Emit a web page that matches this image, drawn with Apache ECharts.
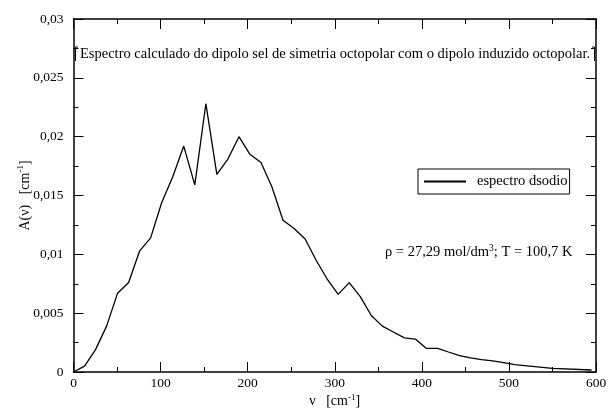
<!DOCTYPE html>
<html>
<head>
<meta charset="utf-8">
<script src="https://cdn.jsdelivr.net/npm/echarts@6/dist/echarts.min.js"></script>
<style>
  html, body { margin: 0; padding: 0; background: #fff; }
  #chart { width: 608px; height: 412px; }
</style>
</head>
<body>
<div id="chart"></div>
<script>
// wavenumber (cm^-1) and absorption A(v)
const wavenumbers = [0, 12.7, 25.3, 38, 50.6, 63.3, 76, 88.6, 101.3, 114, 126.6, 139.3, 152, 164.6,
  177.3, 190, 202.6, 215.3, 228, 240.6, 253.3, 266, 278.6, 291.3, 304, 316.6, 329.3, 342, 354.6,
  367.3, 380, 392.6, 405.3, 418, 430.6, 443.3, 456, 468.6, 481.3, 494, 506.6, 550, 595];
const absorbance = [0, 0.0005, 0.0019, 0.0039, 0.0067, 0.0076, 0.0103, 0.0114, 0.0144, 0.0166, 0.0192,
  0.0159, 0.0228, 0.0168, 0.0181, 0.0200, 0.0185, 0.0178, 0.0157, 0.0129, 0.0122, 0.0113, 0.0095,
  0.0079, 0.0066, 0.0076, 0.0064, 0.0048, 0.0039, 0.0034, 0.0029, 0.0028, 0.0020, 0.0020, 0.0017,
  0.0014, 0.0012, 0.00105, 0.00095, 0.0008, 0.00063, 0.0003, 0.00017];
const xTicks = [0, 100, 200, 300, 400, 500, 600];
const yTicks = ["0", "0,005", "0,01", "0,015", "0,02", "0,025", "0,03"];

const seriesName = "espectro dsodio";
const titleText = "Espectro calculado do dipolo sel de simetria octopolar com o dipolo induzido octopolar.";
const noteText = "27,29 mol/dm";

const FONT = "Liberation Serif";
const chart = echarts.init(document.getElementById("chart"), null, { renderer: "canvas" });

// ticks point into the frame on all four sides
function axisStyle(inside, len) {
  return {
    axisLine: { show: true, onZero: false, lineStyle: { color: "#000", width: 1.5 } },
    axisTick: { show: true, inside: inside, length: len, lineStyle: { color: "#000", width: 1 } },
    minorTick: { show: true, splitNumber: 2, length: len / 2, lineStyle: { color: "#000", width: 1 } },
    splitLine: { show: false },
  };
}

const supRich = {
  n: { fontFamily: FONT, fontSize: 14, color: "#000" },
  s: { fontFamily: FONT, fontSize: 9, color: "#000", verticalAlign: "top", padding: [0, 0, 8, 0] },
};
const noteRich = {
  n: { fontFamily: FONT, fontSize: 14.5, color: "#000" },
  s: { fontFamily: FONT, fontSize: 9.5, color: "#000", verticalAlign: "top", padding: [0, 0, 8, 0] },
};

chart.setOption({
  animation: false,
  backgroundColor: "#fff",
  grid: { left: 73.5, right: 12, top: 19, bottom: 40, containLabel: false, outerBoundsMode: "none" },
  xAxis: [
    Object.assign({ type: "value", min: 0, max: 600, interval: 100, position: "bottom" }, axisStyle(true, 10), {
      axisLabel: {
        fontFamily: FONT, fontSize: 13.5, color: "#000", margin: 4,
        formatter: (v) => (xTicks.includes(v) ? String(v) : ""),
      },
      name: "{n|ν   [cm}{s|-1}{n|]}",
      nameLocation: "middle",
      nameGap: 21,
      nameMoveOverlap: false,
      nameTextStyle: { rich: supRich },
    }),
    Object.assign({ type: "value", min: 0, max: 600, interval: 100, position: "top" }, axisStyle(true, 10), {
      axisLabel: { show: false },
    }),
  ],
  yAxis: [
    Object.assign({ type: "value", min: 0, max: 0.03, interval: 0.005, position: "left" }, axisStyle(false, -10), {
      axisLabel: {
        fontFamily: FONT, fontSize: 13.5, color: "#000", margin: 10,
        formatter: (v) => yTicks[Math.round(v / 0.005)],
      },
      name: "{n|A(ν)   [cm}{s|-1}{n|]}",
      nameLocation: "middle",
      nameRotate: 90,
      nameGap: 40,
      nameMoveOverlap: false,
      nameTextStyle: { rich: supRich },
    }),
    Object.assign({ type: "value", min: 0, max: 0.03, interval: 0.005, position: "right" }, axisStyle(false, -10), {
      axisLabel: { show: false },
    }),
  ],
  legend: {
    show: true,
    left: 418, top: 169,
    itemWidth: 42, itemHeight: 2, itemGap: 0,
    padding: [5, 2, 5, 6],
    borderColor: "#000", borderWidth: 1, borderRadius: 0,
    icon: "rect",
    textStyle: { fontFamily: FONT, fontSize: 14.5, color: "#000", padding: [0, 0, 0, 6] },
    data: [{ name: seriesName, icon: "rect" }],
  },
  graphic: [
    {
      type: "text", left: 80, top: 47,
      style: { text: titleText, font: "14.5px " + FONT, fill: "#000" },
    },
    {
      type: "polyline", silent: true,
      shape: { points: [[78, 47], [75.5, 47], [75.5, 61]] },
      style: { stroke: "#000", lineWidth: 1, fill: null },
    },
    {
      type: "polyline", silent: true,
      shape: { points: [[592, 47], [594.5, 47], [594.5, 61]] },
      style: { stroke: "#000", lineWidth: 1, fill: null },
    },
    {
      type: "text", left: 385, top: 243,
      style: {
        text: "{n|ρ = " + noteText + "}{s|3}{n|; T = 100,7 K}",
        rich: noteRich,
      },
    },
  ],
  series: [
    {
      name: seriesName,
      type: "line",
      xAxisIndex: 0, yAxisIndex: 0,
      data: wavenumbers.map((x, i) => [x, absorbance[i]]),
      showSymbol: false,
      symbol: "none",
      lineStyle: { color: "#000", width: 1.3 },
      itemStyle: { color: "#000" },
    },
  ],
});
</script>
</body>
</html>
